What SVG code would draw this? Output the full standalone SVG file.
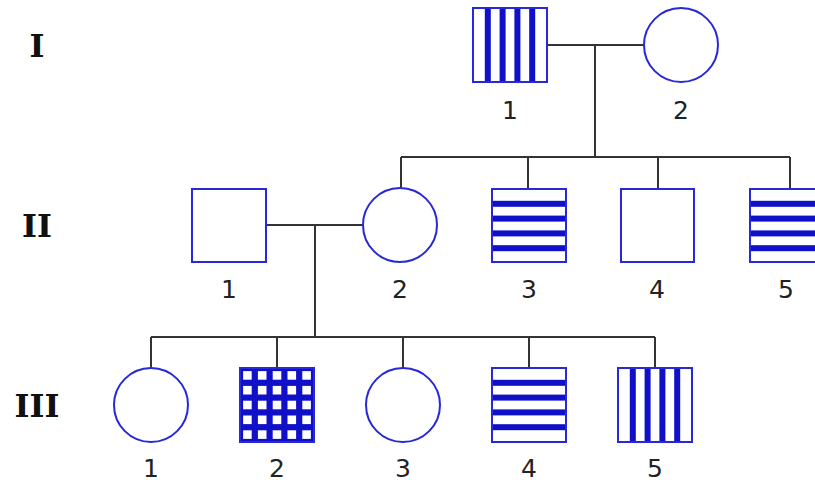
<svg xmlns="http://www.w3.org/2000/svg" xmlns:xlink="http://www.w3.org/1999/xlink" width="815" height="482" viewBox="0 0 815 482">
<style>
.node{fill:#fff;stroke:#2828d8;stroke-width:2}
.pat{fill:#1010c8}
.hole{fill:#fff}
.con{fill:none;stroke:#333;stroke-width:2}
.lbl{font-family:"DejaVu Sans",Verdana,sans-serif;font-size:25px;fill:#222;text-anchor:middle}
.gen{font-family:"DejaVu Serif",serif;font-weight:bold;font-size:32px;fill:#111;text-anchor:middle}
</style>
<defs>
<g id="vs" class="pat"><rect x="11.8" y="0" width="6" height="74"/><rect x="26.6" y="0" width="6" height="74"/><rect x="41.4" y="0" width="6" height="74"/><rect x="56.2" y="0" width="6" height="74"/></g>
<g id="hs" class="pat"><rect y="11.8" x="0" height="6" width="74"/><rect y="26.6" x="0" height="6" width="74"/><rect y="41.4" x="0" height="6" width="74"/><rect y="56.2" x="0" height="6" width="74"/></g>
<g id="cells" class="hole"><rect x="0" y="0" width="8.6" height="8.6"/><rect x="14.8" y="0" width="8.6" height="8.6"/><rect x="29.6" y="0" width="8.6" height="8.6"/><rect x="44.4" y="0" width="8.6" height="8.6"/><rect x="59.2" y="0" width="8.6" height="8.6"/></g>
<g id="grid"><rect class="pat" x="0" y="0" width="74" height="74"/><use xlink:href="#cells" x="3.1" y="3.1"/><use xlink:href="#cells" x="3.1" y="17.9"/><use xlink:href="#cells" x="3.1" y="32.7"/><use xlink:href="#cells" x="3.1" y="47.5"/><use xlink:href="#cells" x="3.1" y="62.3"/></g>
</defs>
<rect width="815" height="482" fill="#fff"/>
<g id="generations">
<text class="gen" x="37" y="57">I</text>
<text class="gen" x="37" y="237">II</text>
<text class="gen" x="37" y="417">III</text>
</g>
<g id="connectors">
<path class="con" d="M547 45H644M595 45V157M401 157H790M401 157V188M528 157V189M658 157V189M790 157V189"/>
<path class="con" d="M266 225H363M315 225V337M151 337H655M151 337V368M277 337V368M403 337V368M529 337V368M655 337V368"/>
</g>
<g id="I-1"><rect class="node" x="473" y="8" width="74" height="74"/><use xlink:href="#vs" x="473" y="8"/><rect class="node" x="473" y="8" width="74" height="74" style="fill:none"/><text class="lbl" x="510" y="119">1</text></g>
<g id="I-2"><circle class="node" cx="681" cy="45" r="37"/><text class="lbl" x="681" y="119">2</text></g>
<g id="II-1"><rect class="node" x="192" y="189" width="74" height="73"/><text class="lbl" x="229" y="298">1</text></g>
<g id="II-2"><circle class="node" cx="400" cy="225" r="37"/><text class="lbl" x="400" y="298">2</text></g>
<g id="II-3"><rect class="node" x="492" y="189" width="74" height="73"/><use xlink:href="#hs" x="492" y="189"/><rect class="node" x="492" y="189" width="74" height="73" style="fill:none"/><text class="lbl" x="529" y="298">3</text></g>
<g id="II-4"><rect class="node" x="621" y="189" width="73" height="73"/><text class="lbl" x="657" y="298">4</text></g>
<g id="II-5"><rect class="node" x="750" y="189" width="74" height="73"/><use xlink:href="#hs" x="750" y="189"/><rect class="node" x="750" y="189" width="74" height="73" style="fill:none"/><text class="lbl" x="786" y="298">5</text></g>
<g id="III-1"><circle class="node" cx="151" cy="405" r="37"/><text class="lbl" x="151" y="477">1</text></g>
<g id="III-2"><use xlink:href="#grid" x="240" y="368"/><rect class="node" x="240" y="368" width="74" height="74" style="fill:none"/><text class="lbl" x="277" y="477">2</text></g>
<g id="III-3"><circle class="node" cx="403" cy="405" r="37"/><text class="lbl" x="403" y="477">3</text></g>
<g id="III-4"><rect class="node" x="492" y="368" width="74" height="74"/><use xlink:href="#hs" x="492" y="368"/><rect class="node" x="492" y="368" width="74" height="74" style="fill:none"/><text class="lbl" x="529" y="477">4</text></g>
<g id="III-5"><rect class="node" x="618" y="368" width="74" height="74"/><use xlink:href="#vs" x="618" y="368"/><rect class="node" x="618" y="368" width="74" height="74" style="fill:none"/><text class="lbl" x="655" y="477">5</text></g>
</svg>
